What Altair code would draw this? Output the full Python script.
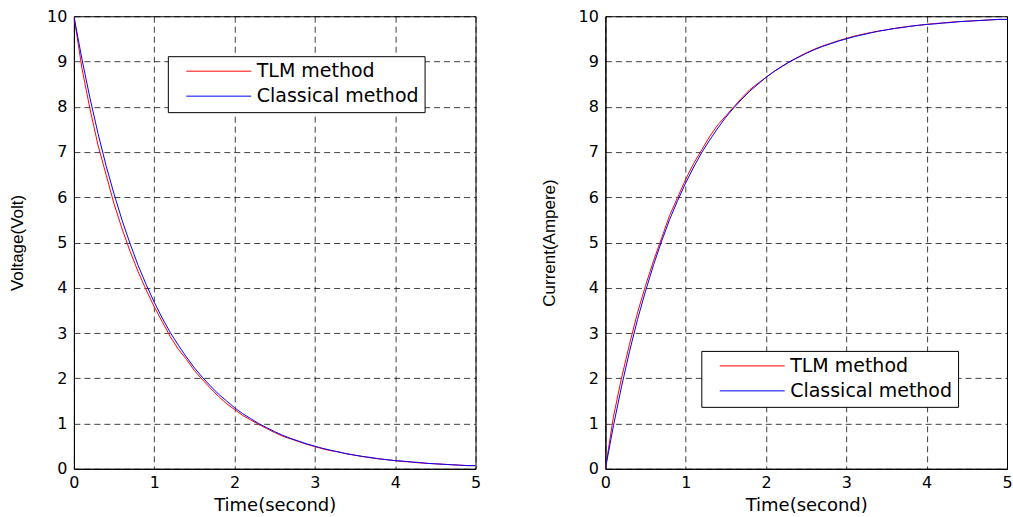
import altair as alt
import pandas as pd

# ---- data ----
time_s = [0.0, 0.1, 0.2, 0.3, 0.4, 0.5, 0.6, 0.7, 0.8, 0.9,
          1.0, 1.1, 1.2, 1.3, 1.4, 1.5, 1.6, 1.7, 1.8, 1.9,
          2.0, 2.1, 2.2, 2.3, 2.4, 2.5, 2.6, 2.7, 2.8, 2.9,
          3.0, 3.1, 3.2, 3.3, 3.4, 3.5, 3.6, 3.7, 3.8, 3.9,
          4.0, 4.1, 4.2, 4.3, 4.4, 4.5, 4.6, 4.7, 4.8, 4.9, 5.0]

voltage_tlm = [10.0, 8.85, 7.95, 7.15, 6.50, 5.85, 5.30, 4.80, 4.35, 3.95,
               3.58, 3.25, 2.92, 2.64, 2.42, 2.17, 1.97, 1.78, 1.60, 1.44,
               1.31, 1.18, 1.08, 0.98, 0.89, 0.80, 0.72, 0.66, 0.60, 0.54,
               0.49, 0.44, 0.40, 0.37, 0.33, 0.30, 0.27, 0.24, 0.22, 0.20,
               0.18, 0.16, 0.15, 0.13, 0.12, 0.11, 0.10, 0.09, 0.08, 0.07, 0.07]

voltage_classical = [10.0, 9.05, 8.19, 7.41, 6.70, 6.07, 5.49, 4.97, 4.49, 4.07,
                     3.68, 3.33, 3.01, 2.73, 2.47, 2.23, 2.02, 1.83, 1.65, 1.50,
                     1.35, 1.22, 1.11, 1.00, 0.91, 0.82, 0.74, 0.67, 0.61, 0.55,
                     0.50, 0.45, 0.41, 0.37, 0.33, 0.30, 0.27, 0.25, 0.22, 0.20,
                     0.18, 0.17, 0.15, 0.14, 0.12, 0.11, 0.10, 0.09, 0.08, 0.07, 0.07]

current_tlm = [0.0, 1.15, 2.00, 2.75, 3.45, 4.05, 4.60, 5.10, 5.60, 6.00,
               6.40, 6.75, 7.05, 7.35, 7.60, 7.80, 8.00, 8.20, 8.38, 8.52,
               8.65, 8.78, 8.90, 9.00, 9.10, 9.19, 9.27, 9.34, 9.40, 9.46,
               9.51, 9.56, 9.60, 9.64, 9.67, 9.70, 9.73, 9.76, 9.78, 9.80,
               9.82, 9.84, 9.85, 9.87, 9.88, 9.89, 9.90, 9.91, 9.92, 9.93, 9.93]

current_classical = [0.0, 0.95, 1.81, 2.59, 3.30, 3.93, 4.51, 5.03, 5.51, 5.93,
                     6.32, 6.67, 6.99, 7.27, 7.53, 7.77, 7.98, 8.17, 8.35, 8.50,
                     8.65, 8.78, 8.89, 9.00, 9.09, 9.18, 9.26, 9.33, 9.39, 9.45,
                     9.50, 9.55, 9.59, 9.63, 9.67, 9.70, 9.73, 9.75, 9.78, 9.80,
                     9.82, 9.83, 9.85, 9.86, 9.88, 9.89, 9.90, 9.91, 9.92, 9.93, 9.93]

methods = ["TLM method", "Classical method"]
colors = ["#ff0000", "#0000ff"]
x_ticks = [0, 1, 2, 3, 4, 5]
y_ticks = [0, 1, 2, 3, 4, 5, 6, 7, 8, 9, 10]


def make_df(tlm, classical):
    rows = []
    for tt, v in zip(time_s, tlm):
        rows.append({"t": tt, "v": v, "method": methods[0], "k": 0})
    for tt, v in zip(time_s, classical):
        rows.append({"t": tt, "v": v, "method": methods[1], "k": 1})
    return pd.DataFrame(rows)


FONT = "DejaVu Sans"
YFONT = "Liberation Sans"


def panel(df, ytitle, lx, ly):
    return alt.Chart(df).mark_line(strokeWidth=1, clip=True).encode(
        x=alt.X("t:Q",
                scale=alt.Scale(domain=[0, 5], nice=False, zero=False),
                axis=alt.Axis(title="Time(second)", values=x_ticks, format="d",
                              labelFont=FONT, labelFontSize=16, labelColor="black",
                              labelPadding=6, titleFont=FONT, titleFontSize=18,
                              titleFontWeight="normal", titleColor="black",
                              titlePadding=6, ticks=False, domainColor="black",
                              gridColor="#000000", gridOpacity=0.75,
                              gridDash=[6, 4], gridWidth=1, labelFlush=False)),
        y=alt.Y("v:Q",
                scale=alt.Scale(domain=[0, 10], nice=False),
                axis=alt.Axis(title=ytitle, values=y_ticks, format="d",
                              labelFont=FONT, labelFontSize=16, labelColor="black",
                              labelPadding=7, titleFont=YFONT, titleFontSize=17,
                              titleFontWeight="normal", titleColor="black",
                              titlePadding=20, ticks=False, domainColor="black",
                              gridColor="#000000", gridOpacity=0.75,
                              gridDash=[6, 4], gridWidth=1, labelFlush=False)),
        color=alt.Color("method:N",
                        scale=alt.Scale(domain=methods, range=colors),
                        legend=alt.Legend(orient="none", legendX=lx, legendY=ly,
                                          title=None, fillColor="white",
                                          strokeColor="black", padding=5.5,
                                          symbolType="M-6.5,0H6.5", symbolSize=100,
                                          symbolStrokeWidth=1, symbolOffset=36,
                                          symbolFillColor="transparent",
                                          labelFont=FONT, labelFontSize=19,
                                          labelColor="black", labelOffset=28.5,
                                          rowPadding=5, labelLimit=300)),
        order=alt.Order("k:Q"),
    ).properties(width=402, height=453)


left = panel(make_df(voltage_tlm, voltage_classical), "Voltage(Volt)", 94, 40)
right = panel(make_df(current_tlm, current_classical), "Current(Ampere)", 96, 335)

chart = alt.hconcat(left, right, spacing=58).resolve_scale(color="independent").properties(
    padding={"left": 8, "top": 7, "right": 0, "bottom": 0},
    background="white",
).configure_view(stroke="black", strokeWidth=1)

chart.save("out.html", embed_options={"renderer": "svg", "actions": False})
